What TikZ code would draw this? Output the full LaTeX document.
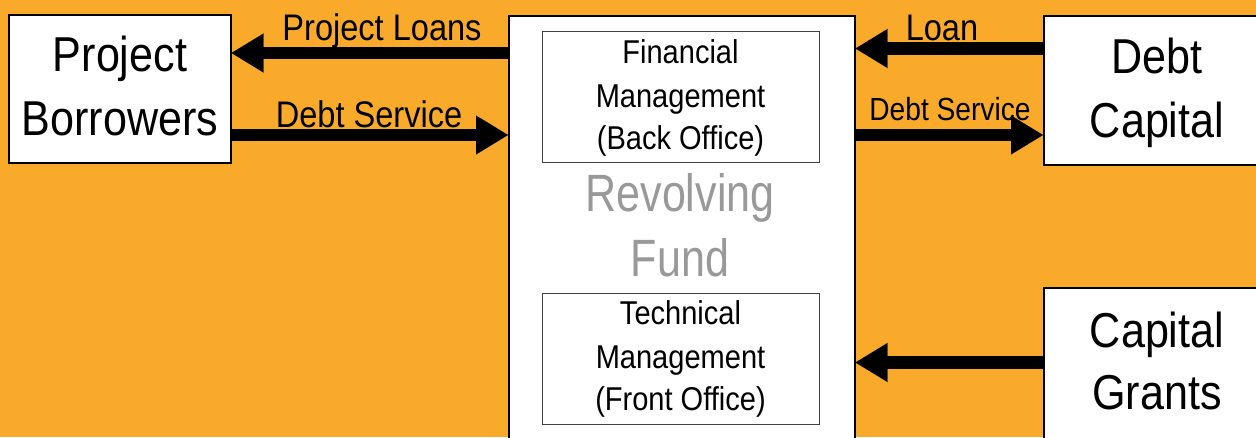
\documentclass[tikz,border=0pt]{standalone}
\usepackage{fontspec}
\setmainfont{Liberation Sans}[FakeStretch=0.88]
\newfontfamily\fundfont{Liberation Sans}[FakeStretch=0.82]
\usetikzlibrary{arrows.meta}
\definecolor{bgorange}{RGB}{249,170,42}
\definecolor{fundgray}{RGB}{153,153,153}
\begin{document}
\begin{tikzpicture}[x=1pt,y=-1pt,
  box/.style={draw=black,line width=1.5pt,fill=white,rectangle,inner sep=0pt,anchor=north west},
  inbox/.style={draw=black!75,line width=1pt,fill=white,rectangle,inner sep=0pt,anchor=north west},
  txt/.style={anchor=base,inner sep=0pt,text=black},
  bigtxt/.style={txt,font=\fontsize{49}{58}\selectfont},
  fundtxt/.style={txt,text=fundgray,font=\fundfont\fontsize{52.5}{62}\selectfont},
  midtxt/.style={txt,font=\fontsize{33}{40}\selectfont},
  lbltxt/.style={txt,font=\fontsize{37}{44}\selectfont},
  smalllbl/.style={txt,font=\fontsize{32}{38}\selectfont},
  flow/.style={line width=12.5pt,draw=black,-{Triangle[length=32pt,width=39pt,line width=0.1pt]}}
]
\useasboundingbox (0,0) rectangle (1256,437);
\fill[bgorange] (0,0) rectangle (1256,437);
\begin{scope}
\clip (0,0) rectangle (1256,437);
% boxes
\node[box,minimum width=222pt,minimum height=148pt] (pb) at (8,14) {};
\node[box,minimum width=346pt,minimum height=450pt] (fund) at (508,15) {};
\node[inbox,minimum width=277pt,minimum height=131pt] (fin) at (542,31) {};
\node[inbox,minimum width=277pt,minimum height=131pt] (tech) at (542,293) {};
\node[box,minimum width=240pt,minimum height=149pt] (dc) at (1043,15) {};
\node[box,minimum width=240pt,minimum height=170pt] (cg) at (1043,287) {};
% texts in boxes
\node[bigtxt] (pb1) at (120,71) {Project};
\node[bigtxt] (pb2) at (120,135) {Borrowers};
\node[bigtxt] (dc1) at (1157,73) {Debt};
\node[bigtxt] (dc2) at (1157,137) {Capital};
\node[bigtxt] (cg1) at (1157,347) {Capital};
\node[bigtxt] (cg2) at (1157,409) {Grants};
\node[fundtxt] (rf1) at (680,211) {Revolving};
\node[fundtxt] (rf2) at (680,276) {Fund};
\node[midtxt] (fin1) at (680.5,63) {Financial};
\node[midtxt] (fin2) at (680.5,107) {Management};
\node[midtxt] (fin3) at (680.5,149) {(Back Office)};
\node[midtxt] (tech1) at (680.5,324) {Technical};
\node[midtxt] (tech2) at (680.5,368) {Management};
\node[midtxt] (tech3) at (680.5,410) {(Front Office)};
% connectors
\draw[flow] (fund.west |- 0,53) -- (pb.east |- 0,53);
\draw[flow] (pb.east |- 0,135) -- (fund.west |- 0,135);
\draw[flow] (dc.west |- 0,48.5) -- (fund.east |- 0,48.5);
\draw[flow] (fund.east |- 0,135) -- (dc.west |- 0,135);
\draw[flow] (cg.west |- 0,362.5) -- (fund.east |- 0,362.5);
% connector labels
\node[lbltxt] (l1) at (382,40) {Project Loans};
\node[lbltxt] (l2) at (369,127) {Debt Service};
\node[lbltxt] (l3) at (942,40) {Loan};
\node[smalllbl] (l4) at (950,120) {Debt Service};
\end{scope}
\end{tikzpicture}
\end{document}
